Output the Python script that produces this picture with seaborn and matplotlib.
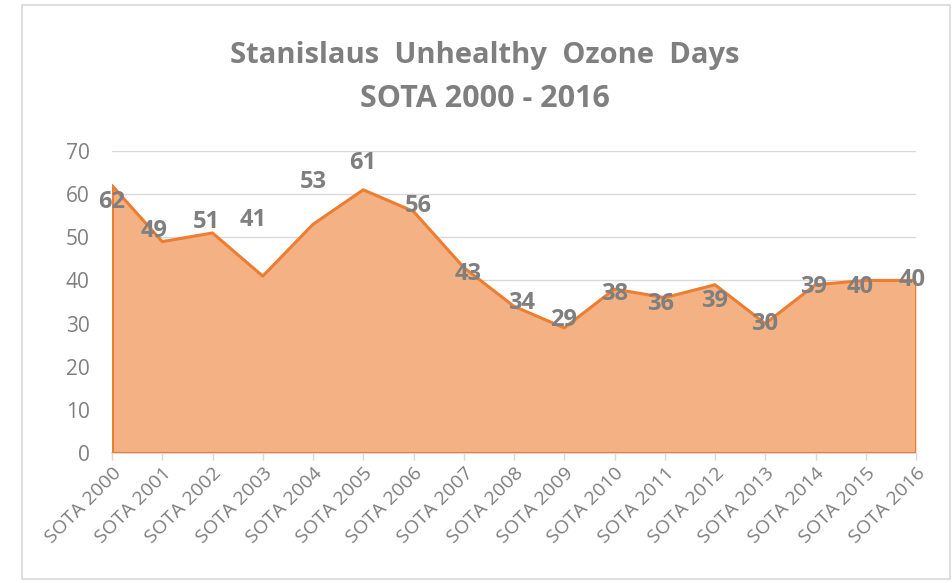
import matplotlib
matplotlib.use('Agg')
import matplotlib.pyplot as plt
import matplotlib.patches as patches
import seaborn as sns
import pandas as pd

# data
years = [f'SOTA {y}' for y in range(2000, 2017)]
days = [62, 49, 51, 41, 53, 61, 56, 43, 34, 29, 38, 36, 39, 30, 39, 40, 40]

# label nudges (pixels, x right / y down) to mimic the original placement
label_dx = [0, -8, -6, -10, 0, -1, 5, 4, 8, -1, 0, -4, 0, -1, -2, -6, -4]
label_dy = [16, -11, -11, -56, -42, -27, -5, 7, -3, -8, 5, 6, 16, 0, 2, 7, 0]

sns.set_theme(style='white')
plt.rcParams['font.family'] = ['Open Sans', 'DejaVu Sans']

gray = '#7f7f7f'
line_c = '#ED7D31'
fill_c = '#F4B183'

df = pd.DataFrame({'year': years, 'days': days, 'x': range(len(years))})

fig = plt.figure(figsize=(9.52, 5.83), dpi=100)
ax = fig.add_axes([112 / 952, 1 - 453 / 583, (916 - 112) / 952, (453 - 151) / 583])

ax.fill_between(df['x'], 0, df['days'], color=fill_c, zorder=2, linewidth=0)
sns.lineplot(data=df, x='x', y='days', ax=ax, color=line_c, linewidth=2.2, zorder=3)
# vertical edges of the area
ax.plot([0, 0], [0, days[0]], color=line_c, linewidth=2.2, zorder=3)
ax.plot([len(days) - 1] * 2, [0, days[-1]], color=line_c, linewidth=2.2, zorder=3)
ax.plot([0, len(days) - 1], [0, 0], color=line_c, linewidth=2.2, zorder=3)

ax.set_xlim(0, len(years) - 1)
ax.set_ylim(0, 70)
ax.set_yticks(range(0, 71, 10))
ax.set_xticks(df['x'])
ax.set_xticklabels(years, rotation=45, ha='right', rotation_mode='anchor')
ax.tick_params(axis='y', colors=gray, labelsize=15, length=0, pad=16)
ax.tick_params(axis='x', colors=gray, labelsize=14, length=5, width=1,
               direction='out', bottom=True, pad=3)
for t in ax.get_xticklabels():
    t.set_color(gray)
ax.set_xlabel('')
ax.set_ylabel('')

ax.grid(axis='y', color='#d9d9d9', linewidth=1, zorder=0)
ax.set_axisbelow(True)
for s in ['top', 'right', 'left']:
    ax.spines[s].set_visible(False)
ax.spines['bottom'].set_color('#d9d9d9')
ax.tick_params(axis='x', color='#d9d9d9')

for i, v in enumerate(days):
    ax.annotate(str(v), (i, v), xytext=(label_dx[i] * 0.72, -label_dy[i] * 0.72),
                textcoords='offset points', ha='center', va='center',
                fontsize=17, fontweight='bold', color=gray, zorder=4)

fig.text(485 / 952, 1 - 55 / 583, 'Stanislaus  Unhealthy  Ozone  Days',
         ha='center', va='center', fontsize=21, fontweight='bold', color=gray)
fig.text(485 / 952, 1 - 99 / 583, 'SOTA 2000 - 2016',
         ha='center', va='center', fontsize=22, fontweight='bold', color=gray)

fig.patches.append(patches.Rectangle((22 / 952, 4 / 583), 928 / 952, 574 / 583,
                                     transform=fig.transFigure, fill=False,
                                     edgecolor='#d9d9d9', linewidth=1.2))

fig.savefig('out.png', dpi=100)
